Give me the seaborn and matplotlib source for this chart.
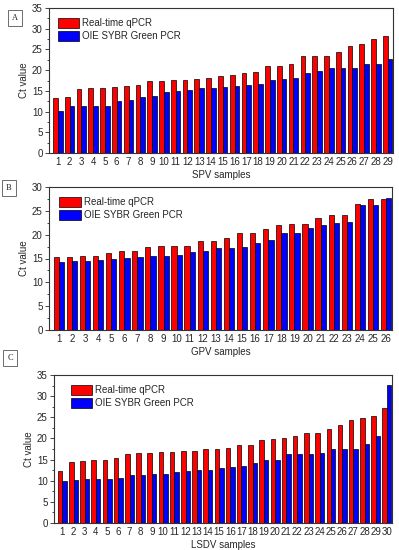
import matplotlib
matplotlib.use("Agg")
import matplotlib.pyplot as plt
import pandas as pd
import seaborn as sns
from matplotlib.ticker import MultipleLocator

series_names = ["Real-time qPCR", "OIE SYBR Green PCR"]
colors = ["#ff0000", "#0000ff"]

spv_qpcr = [13.3, 13.6, 15.4, 15.7, 15.7, 15.9, 16.1, 16.5, 17.3, 17.3, 17.6, 17.6, 17.8, 18.1, 18.7,
            18.8, 19.4, 19.6, 21.1, 21.1, 21.5, 23.3, 23.4, 23.5, 24.3, 25.8, 26.2, 27.4, 28.3]
spv_sybr = [10.2, 11.3, 11.4, 11.4, 11.4, 12.5, 12.7, 13.5, 13.7, 14.8, 15.0, 15.3, 15.6, 15.6, 15.9,
            16.2, 16.3, 16.6, 17.7, 17.8, 18.2, 19.2, 19.7, 20.5, 20.5, 20.6, 21.4, 21.4, 22.7]

gpv_qpcr = [15.3, 15.4, 15.5, 15.6, 16.1, 16.5, 16.6, 17.4, 17.6, 17.7, 17.7, 18.6, 18.7, 19.4, 20.4,
            20.4, 21.2, 22.1, 22.2, 22.2, 23.6, 24.2, 24.2, 26.4, 27.4, 27.4]
gpv_sybr = [14.3, 14.4, 14.5, 14.6, 15.0, 15.1, 15.3, 15.5, 15.5, 15.8, 16.3, 16.6, 17.1, 17.3, 17.4,
            18.2, 18.8, 20.4, 20.4, 21.4, 22.1, 22.4, 22.7, 26.2, 26.3, 27.6]

lsdv_qpcr = [12.4, 14.4, 14.6, 14.8, 14.8, 15.3, 16.3, 16.6, 16.6, 16.8, 16.8, 17.0, 17.0, 17.4, 17.5,
             17.7, 18.4, 18.4, 19.6, 19.8, 20.2, 20.6, 21.2, 21.4, 22.2, 23.1, 24.3, 24.8, 25.2, 27.3]
lsdv_sybr = [10.0, 10.2, 10.3, 10.4, 10.4, 10.6, 11.3, 11.4, 11.5, 11.7, 12.1, 12.3, 12.5, 12.6, 12.9,
             13.2, 13.5, 14.3, 14.8, 14.9, 16.2, 16.2, 16.3, 16.6, 17.5, 17.5, 17.6, 18.7, 20.5, 32.7]

panels = [
    ("A", "SPV samples", spv_qpcr, spv_sybr, 35),
    ("B", "GPV samples", gpv_qpcr, gpv_sybr, 30),
    ("C", "LSDV samples", lsdv_qpcr, lsdv_sybr, 35),
]

sns.set_theme(style="ticks")
plt.rcParams["font.family"] = ["Liberation Sans", "DejaVu Sans"]
plt.rcParams["font.size"] = 7

fig = plt.figure(figsize=(3.99, 5.5), dpi=100)
# axes rectangles in figure fractions (left, bottom, width, height)
rects = [
    (49 / 399, 1 - 153 / 550, 344 / 399, 145 / 550),
    (49 / 399, 1 - 330 / 550, 343 / 399, 143 / 550),
    (54 / 399, 1 - 523 / 550, 338 / 399, 148 / 550),
]
label_pos = [(15, 18), (9, 188), (10, 358)]
legend_x = [0.005, 0.01, 0.03]

for (letter, xlabel, qpcr, sybr, ymax), rect, lp, lx in zip(panels, rects, label_pos, legend_x):
    ax = fig.add_axes(rect)
    n = len(qpcr)
    samples = [str(i + 1) for i in range(n)]
    df = pd.DataFrame({
        "sample": samples * 2,
        "method": [series_names[0]] * n + [series_names[1]] * n,
        "ct": qpcr + sybr,
    })
    sns.barplot(data=df, x="sample", y="ct", hue="method", palette=colors,
                width=0.8, edgecolor="black", linewidth=0.5, saturation=1,
                errorbar=None, ax=ax)
    ax.set_ylim(0, ymax)
    ax.set_xlim(-0.75, n - 0.55)
    ax.yaxis.set_major_locator(MultipleLocator(5))
    ax.yaxis.set_minor_locator(MultipleLocator(2.5))
    ax.tick_params(axis="both", labelsize=7, length=3, width=0.6, pad=1.5)
    ax.tick_params(axis="y", which="minor", length=1.5, width=0.6)
    ax.tick_params(axis="x", length=0, pad=3)
    ax.set_xlabel(xlabel, fontsize=7, labelpad=2)
    ax.set_ylabel("Ct value", fontsize=7, labelpad=2)
    for s in ax.spines.values():
        s.set_linewidth(0.8)
        s.set_color("#333333")
    ax.legend(loc="upper left", frameon=False, fontsize=7, handlelength=2.2,
              handleheight=1.3, handletextpad=0.3, labelspacing=0.25,
              borderaxespad=0.3, bbox_to_anchor=(lx, 0.98))
    fig.text(lp[0] / 399, 1 - lp[1] / 550, letter, fontsize=6, family="Liberation Serif",
             ha="center", va="center",
             bbox=dict(boxstyle="square,pad=0.5", fc="white", ec="#555555", lw=0.6))

fig.savefig("out.png", dpi=100)
